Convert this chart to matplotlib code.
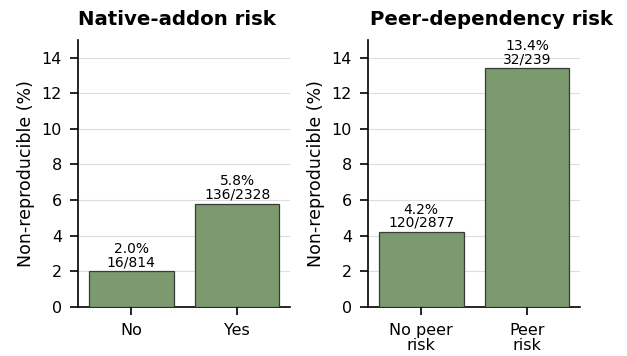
import matplotlib
matplotlib.use("Agg")
import matplotlib.pyplot as plt

# datos
titulos = ["Native-addon risk", "Peer-dependency risk"]
categorias = [["No", "Yes"], ["No peer\nrisk", "Peer\nrisk"]]
porcentajes = [[2.0, 5.8], [4.2, 13.4]]
conteos = [["16/814", "136/2328"], ["120/2877", "32/239"]]

color_barra = "#7b9a6d"
pos_titulo = [0.467, 0.58]  # el titulo no queda centrado en el original

fig, axes = plt.subplots(1, 2, figsize=(6.27, 3.56), dpi=100)

for ax, titulo, cats, vals, cnts, xt in zip(axes, titulos, categorias, porcentajes, conteos, pos_titulo):
    x = range(len(cats))
    ax.bar(x, vals, width=0.8, color=color_barra, edgecolor="#3a3a3a", linewidth=0.9, zorder=3)
    for xi, v, c in zip(x, vals, cnts):
        ax.text(xi, v + 0.12, f"{v:.1f}%\n{c}", ha="center", va="bottom",
                fontsize=10, linespacing=0.95, zorder=4)
    ax.set_xticks(list(x))
    ax.set_xticklabels(cats, fontsize=11.5, linespacing=1.0)
    ax.set_xlim(-0.5, 1.5)
    ax.set_ylim(0, 15)
    ax.set_yticks([0, 2, 4, 6, 8, 10, 12, 14])
    ax.tick_params(axis="both", labelsize=11.5, length=5.8, width=1.2, pad=6)
    ax.set_ylabel("Non-reproducible (%)", fontsize=12.5, labelpad=5)
    ax.set_title(titulo, fontsize=14.2, fontweight="bold", pad=11, x=xt)
    ax.grid(axis="y", color="#dddddd", linewidth=0.8, zorder=0)
    ax.spines["top"].set_visible(False)
    ax.spines["right"].set_visible(False)
    ax.spines["left"].set_linewidth(1.2)
    ax.spines["bottom"].set_linewidth(1.2)

plt.subplots_adjust(left=0.125, right=0.925, bottom=0.138, top=0.888, wspace=0.37)
plt.savefig("out.png", dpi=100)
